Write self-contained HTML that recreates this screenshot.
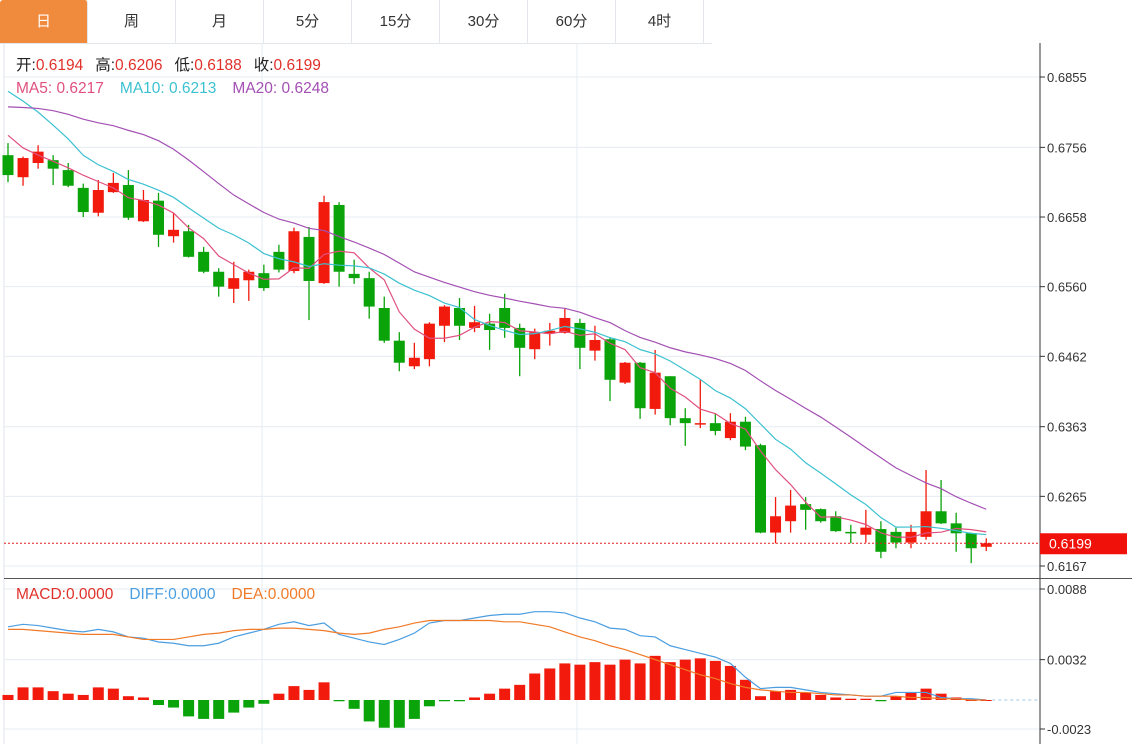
<!DOCTYPE html>
<html><head><meta charset="utf-8">
<style>
html,body{margin:0;padding:0;background:#fff;width:1132px;height:744px;overflow:hidden;font-family:"Liberation Sans","Noto Sans CJK SC",sans-serif;}
#tabs{position:absolute;left:0;top:0;height:43px;width:712px;display:flex;border-bottom:1px solid #e3e6ea;}
.tab{width:88px;height:43px;line-height:43px;text-align:center;font-size:15px;color:#333;border-right:1px solid #e3e6ea;box-sizing:border-box;}
.tab.on{background:#f08a3c;color:#fff;border-radius:3px 3px 0 0;}
svg{position:absolute;left:0;top:0;}
</style></head><body>
<div id="tabs">
<div class="tab on">日</div>
<div class="tab">周</div>
<div class="tab">月</div>
<div class="tab">5分</div>
<div class="tab">15分</div>
<div class="tab">30分</div>
<div class="tab">60分</div>
<div class="tab">4时</div>
</div>
<svg id="chart" width="1132" height="744"></svg>
<script>
const prevCloses=[0.6760,0.6775,0.6790,0.6805,0.6800,0.6800,0.6785,0.6790,0.6800,0.6805,0.6880,0.6905,0.6910,0.6895,0.6895,0.6830,0.6800,0.6770,0.6748];
const opens=[0.6745,0.6714,0.6734,0.6738,0.6724,0.6699,0.6664,0.6693,0.6703,0.6652,0.6681,0.6631,0.6638,0.6609,0.6581,0.6557,0.6569,0.6579,0.6609,0.6582,0.6630,0.6565,0.6675,0.6578,0.6572,0.6530,0.6484,0.6448,0.6458,0.6505,0.6530,0.6502,0.6508,0.6530,0.6502,0.6472,0.6494,0.6495,0.6509,0.6470,0.6486,0.6425,0.6453,0.6388,0.6434,0.6375,0.6367,0.6368,0.6347,0.6370,0.6337,0.6214,0.6230,0.6254,0.6247,0.6237,0.6215,0.6211,0.6219,0.6215,0.6200,0.6208,0.6244,0.6227,0.6213,0.6194];
const closes=[0.6717,0.6741,0.6750,0.6726,0.6702,0.6665,0.6696,0.6706,0.6657,0.6682,0.6633,0.6640,0.6602,0.6581,0.6560,0.6572,0.6581,0.6558,0.6584,0.6638,0.6568,0.6679,0.6581,0.6572,0.6532,0.6484,0.6453,0.6460,0.6508,0.6532,0.6505,0.6510,0.6499,0.6502,0.6474,0.6496,0.6498,0.6516,0.6474,0.6485,0.6429,0.6453,0.6389,0.6439,0.6375,0.6368,0.6368,0.6357,0.6370,0.6335,0.6214,0.6237,0.6252,0.6246,0.6230,0.6216,0.6214,0.6221,0.6187,0.6200,0.6215,0.6244,0.6227,0.6213,0.6192,0.6199];
const highs=[0.6762,0.6743,0.6759,0.6745,0.6734,0.6705,0.6710,0.6720,0.6724,0.6696,0.6692,0.6664,0.6647,0.6616,0.6586,0.6595,0.6584,0.6591,0.6619,0.6643,0.6644,0.6688,0.6679,0.6598,0.6581,0.6546,0.6496,0.6481,0.6510,0.6534,0.6544,0.6533,0.6522,0.6550,0.6508,0.6501,0.6509,0.6529,0.6515,0.6505,0.6489,0.6454,0.6454,0.6471,0.6434,0.6389,0.6429,0.6382,0.6382,0.6377,0.6339,0.6264,0.6274,0.6264,0.6248,0.6244,0.6225,0.6246,0.6230,0.6221,0.6225,0.6302,0.6288,0.6242,0.6214,0.6206];
const lows=[0.6707,0.6702,0.6726,0.6703,0.6700,0.6658,0.6659,0.6692,0.6654,0.6651,0.6616,0.6622,0.6601,0.6579,0.6546,0.6537,0.6540,0.6554,0.6580,0.6579,0.6513,0.6564,0.6560,0.6564,0.6515,0.6481,0.6441,0.6444,0.6448,0.6482,0.6485,0.6496,0.6471,0.6488,0.6434,0.6458,0.6477,0.6494,0.6444,0.6456,0.6399,0.6423,0.6374,0.6380,0.6365,0.6336,0.6361,0.6351,0.6344,0.6330,0.6213,0.6199,0.6214,0.6218,0.6228,0.6215,0.6199,0.6200,0.6178,0.6192,0.6192,0.6204,0.6226,0.6187,0.6171,0.6188];
const macdHist=[0.0004,0.0010,0.0010,0.0007,0.0005,0.0004,0.0010,0.0009,0.0003,0.0002,-0.0004,-0.0006,-0.0013,-0.0015,-0.0015,-0.0010,-0.0006,-0.0003,0.0005,0.0011,0.0008,0.0014,-0.0001,-0.0007,-0.0017,-0.0022,-0.0022,-0.0015,-0.0005,-0.0001,-0.0001,0.0002,0.0005,0.0009,0.0012,0.0021,0.0025,0.0029,0.0028,0.0030,0.0028,0.0032,0.0029,0.0035,0.0030,0.0032,0.0033,0.0031,0.0027,0.0016,0.0003,0.0007,0.0008,0.0006,0.0004,0.0002,0.0001,0.0001,-0.0001,0.0003,0.0006,0.0009,0.0005,0.0002,0.0000,0.0000];
const diffVals=[0.0058,0.0060,0.0059,0.0057,0.0055,0.0054,0.0056,0.0054,0.0050,0.0049,0.0046,0.0045,0.0043,0.0043,0.0045,0.0050,0.0053,0.0056,0.0060,0.0062,0.0059,0.0061,0.0052,0.0049,0.0046,0.0044,0.0048,0.0053,0.0061,0.0063,0.0063,0.0065,0.0067,0.0068,0.0068,0.0070,0.0070,0.0069,0.0065,0.0062,0.0057,0.0056,0.0051,0.0050,0.0043,0.0040,0.0037,0.0034,0.0029,0.0018,0.0009,0.0010,0.0010,0.0008,0.0006,0.0005,0.0004,0.0003,0.0003,0.0006,0.0006,0.0006,0.0002,0.0001,0.0001,0.0000];
const deaVals=[0.0056,0.0056,0.0055,0.0054,0.0053,0.0052,0.0052,0.0052,0.0050,0.0048,0.0048,0.0048,0.0050,0.0052,0.0053,0.0055,0.0056,0.0056,0.0057,0.0057,0.0056,0.0055,0.0053,0.0052,0.0053,0.0056,0.0058,0.0061,0.0063,0.0063,0.0063,0.0063,0.0063,0.0062,0.0062,0.0060,0.0058,0.0054,0.0050,0.0047,0.0043,0.0040,0.0036,0.0032,0.0028,0.0024,0.0020,0.0017,0.0013,0.0010,0.0008,0.0007,0.0006,0.0006,0.0005,0.0004,0.0004,0.0003,0.0003,0.0003,0.0002,0.0002,0.0001,0.0001,0.0000,0.0000];
const priceTicks=[0.6855,0.6756,0.6658,0.6560,0.6462,0.6363,0.6265,0.6167];
const macdTicks=[0.0088,0.0032,-0.0023];
const lastPrice=0.6199;

const NS='http://www.w3.org/2000/svg';
const svg=document.getElementById('chart');
function mk(tag,attrs,parent){const e=document.createElementNS(NS,tag);for(const k in attrs)e.setAttribute(k,attrs[k]);(parent||svg).appendChild(e);return e;}
const yP=v=>77+(0.6855-v)*(566-77)/(0.6855-0.6167);
const yM=v=>589+(0.0088-v)*(729-589)/(0.0088+0.0023);
const xI=i=>8+i*15.05;
const UP='#f21a0c',DN='#0aa30a';

let g=mk('line',{x1:4,y1:43,x2:4,y2:744,stroke:'#dfe3e8'});


[262,577].forEach(x=>{const l=mk('line',{x1:x,y1:43,x2:x,y2:744,stroke:'#e6ecf2'});

});
priceTicks.forEach(t=>{const y=yP(t);
const l=mk('line',{x1:4,y1:y,x2:1040,y2:y,stroke:'#e6ecf2'});


mk('line',{x1:1040,y1:y,x2:1045,y2:y,stroke:'#333'});
const tx=mk('text',{x:1047,y:y+5,'font-size':13,fill:'#333'});tx.textContent=t.toFixed(4);

});
macdTicks.forEach(t=>{const y=yM(t);
const l=mk('line',{x1:4,y1:y,x2:1040,y2:y,stroke:'#e6ecf2'});


mk('line',{x1:1040,y1:y,x2:1045,y2:y,stroke:'#333'});
const tx=mk('text',{x:1047,y:y+5,'font-size':13,fill:'#333'});tx.textContent=t.toFixed(4);

});
mk('line',{x1:1040,y1:43,x2:1040,y2:744,stroke:'#333'});
const sep=mk('line',{x1:4,y1:578.5,x2:1132,y2:578.5,stroke:'#555'});



for(let i=0;i<opens.length;i++){
 const o=opens[i],c=closes[i],up=c>=o,col=up?UP:DN,x=xI(i);
 const w=mk('line',{x1:x,y1:yP(highs[i]),x2:x,y2:yP(lows[i]),stroke:col,'stroke-width':1.3});
 
 
 const top=yP(Math.max(o,c)),h=Math.max(1.5,Math.abs(yP(o)-yP(c)));
 const r=mk('rect',{x:x-5.5,y:top,width:11,height:h,fill:col});
 
 
}
const all=prevCloses.concat(closes);
function ma(n){const out=[];for(let i=0;i<closes.length;i++){const k=i+prevCloses.length;let s=0;for(let j=k-n+1;j<=k;j++)s+=all[j];out.push(s/n);}return out;}
[[5,'#e0507e','ma5-line'],[10,'#3cc1d0','ma10-line'],[20,'#a34fb3','ma20-line']].forEach(([n,col,name])=>{
 const v=ma(n);const p=mk('polyline',{points:v.map((d,i)=>xI(i)+','+yP(d)).join(' '),fill:'none',stroke:col,'stroke-width':1.2});
 
 
});
const lp=mk('line',{x1:4,y1:yP(lastPrice),x2:1040,y2:yP(lastPrice),stroke:'#e02020','stroke-dasharray':'2,2'});


const lb=mk('rect',{x:1040,y:yP(lastPrice)-10,width:87,height:21,fill:'#f0120a'});


const lt=mk('text',{x:1049,y:yP(lastPrice)+5,'font-size':14,fill:'#fff'});lt.textContent=lastPrice.toFixed(4);



for(let i=0;i<macdHist.length;i++){
 const v=macdHist[i],x=xI(i),y0=yM(0),y1=yM(v);
 const r=mk('rect',{x:x-5.5,y:Math.min(y0,y1),width:11,height:Math.max(1,Math.abs(y1-y0)),fill:v>=0?UP:DN});
 
 
}
const zl=mk('line',{x1:xI(macdHist.length-1)+6,y1:yM(0),x2:1040,y2:yM(0),stroke:'#9cc8e8','stroke-dasharray':'3,3'});


const dl=mk('polyline',{points:diffVals.map((d,i)=>xI(i)+','+yM(d)).join(' '),fill:'none',stroke:'#4b9ee0','stroke-width':1.2});


const el=mk('polyline',{points:deaVals.map((d,i)=>xI(i)+','+yM(d)).join(' '),fill:'none',stroke:'#f07a28','stroke-width':1.2});



function legend(x,y,parts,name){const t=mk('text',{x:x,y:y,'font-size':15.5});
 
 
 t.style.whiteSpace='pre';
 parts.forEach(([s,c,dx])=>{const ts=mk('tspan',{fill:c},t);if(dx)ts.setAttribute('dx',dx);ts.textContent=s;});}
legend(16,70,[['开:','#222'],['0.6194','#e0302a'],['高:','#222',12],['0.6206','#e0302a'],['低:','#222',12],['0.6188','#e0302a'],['收:','#222',12],['0.6199','#e0302a']],'ohlc-legend');
legend(16,93,[['MA5: 0.6217','#e0507e'],['MA10: 0.6213','#3cc1d0',16],['MA20: 0.6248','#a34fb3',16]],'ma-legend');
legend(16,599,[['MACD:0.0000','#e0302a'],['DIFF:0.0000','#4b9ee0',16],['DEA:0.0000','#f07a28',16]],'macd-legend');
</script>
</body></html>
